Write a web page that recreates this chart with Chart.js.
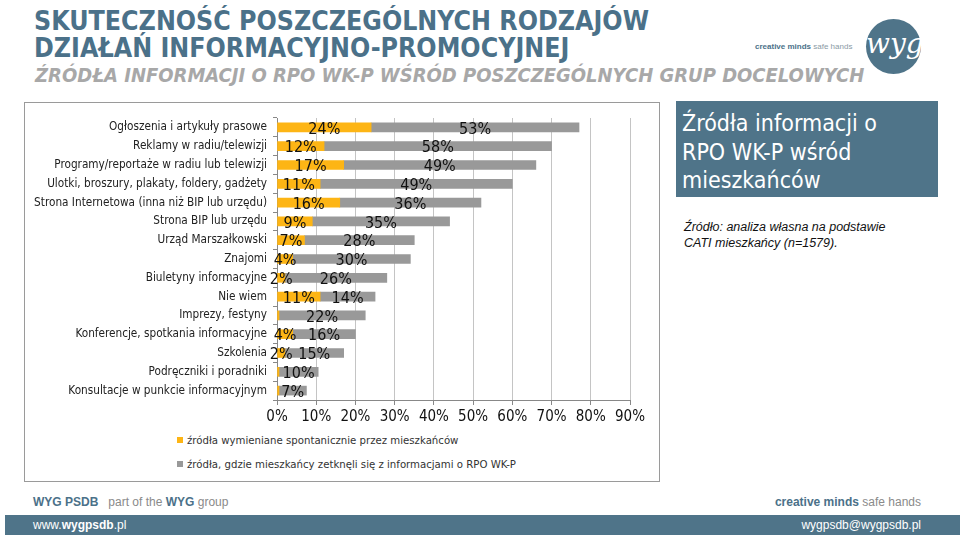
<!DOCTYPE html>
<html>
<head>
<meta charset="utf-8">
<script src="https://cdn.jsdelivr.net/npm/chart.js@4"></script>
<style>
  body { margin: 0; width: 960px; height: 539px; position: relative; background: #fff; overflow: hidden; font-family: "DejaVu Sans", sans-serif; }
  .abs { position: absolute; white-space: nowrap; }
  #t1, #t2 { left: 34px; color: #4b7189; font: bold 26.5px "DejaVu Sans Condensed", "DejaVu Sans", sans-serif; }
  #t1 { top: 5px; }
  #t2 { top: 32px; }
  #t3 { left: 35px; top: 63px; color: #a8a8a8; font: italic bold 20px "DejaVu Sans Condensed", "DejaVu Sans", sans-serif; }
  #tag { left: 755px; top: 42px; font: 8px "Liberation Sans", sans-serif; color: #8a9aa5; }
  #tag b { color: #4b7189; }
  #logo { left: 866px; top: 19px; width: 55px; height: 55px; border-radius: 50%; background: #4f7489; color: #fff; font: italic 28px "DejaVu Serif", serif; text-align: center; line-height: 50px; }
  #box { left: 24px; top: 102px; width: 634px; height: 378px; border: 1.5px solid #9a9a9a; }
  #wrap { left: 25px; top: 103px; width: 635px; height: 330px; }
  #legend { left: 177px; top: 433px; font: 11.3px "DejaVu Sans Condensed", "DejaVu Sans", sans-serif; color: #333; }
  #legend div { height: 24px; line-height: 16px; }
  #legend span.sw { display: inline-block; width: 6px; height: 6px; margin-right: 4px; vertical-align: 1px; }
  #side { left: 676px; top: 101px; width: 262px; height: 96px; background: #4f7489; color: #fff; font: 23px "DejaVu Sans Condensed", "DejaVu Sans", sans-serif; line-height: 28.5px; padding: 8px 0 0 6px; box-sizing: border-box; }
  #src { left: 684px; top: 219px; font: italic 12.5px "Liberation Sans", sans-serif; color: #111; line-height: 16px; }
  #f1 { left: 33px; top: 495px; font: 12px "Liberation Sans", sans-serif; color: #8a8a8a; }
  #f1 b, #f2 b { color: #4b7189; }
  #f2 { right: 39px; top: 495px; font: 12px "Liberation Sans", sans-serif; color: #8a8a8a; }
  #bar { left: 5px; top: 515px; width: 955px; height: 20px; background: #4f7489; }
  #f3 { left: 33px; top: 518px; font: 12px "Liberation Sans", sans-serif; color: #fff; }
  #f4 { right: 39px; top: 518px; font: 12px "Liberation Sans", sans-serif; color: #fff; }
</style>
</head>
<body>
<div class="abs" id="t1">SKUTECZNOŚĆ POSZCZEGÓLNYCH RODZAJÓW</div>
<div class="abs" id="t2">DZIAŁAŃ INFORMACYJNO-PROMOCYJNEJ</div>
<div class="abs" id="t3">ŹRÓDŁA INFORMACJI O RPO WK-P WŚRÓD POSZCZEGÓLNYCH GRUP DOCELOWYCH</div>
<div class="abs" id="tag"><b>creative minds</b> safe hands</div>
<div class="abs" id="logo">wyg</div>

<div class="abs" id="box"></div>
<div class="abs" id="wrap"><canvas id="chart" width="635" height="330"></canvas></div>
<div class="abs" id="legend"></div>

<div class="abs" id="side">Źródła informacji o<br>RPO WK-P wśród<br>mieszkańców</div>
<div class="abs" id="src">Źródło: analiza własna na podstawie<br>CATI mieszkańcy (n=1579).</div>

<div class="abs" id="f1"><b>WYG PSDB</b>&nbsp;&nbsp;&nbsp;part of the <b>WYG</b> group</div>
<div class="abs" id="f2"><b>creative minds</b> safe hands</div>
<div class="abs" id="bar"></div>
<div class="abs" id="f3">www.<b style="color:#fff">wygpsdb</b>.pl</div>
<div class="abs" id="f4">wygpsdb@wygpsdb.pl</div>

<script>
var categories = [
    'Ogłoszenia i artykuły prasowe',
    'Reklamy w radiu/telewizji',
    'Programy/reportaże w radiu lub telewizji',
    'Ulotki, broszury, plakaty, foldery, gadżety',
    'Strona Internetowa (inna niż BIP lub urzędu)',
    'Strona BIP lub urzędu',
    'Urząd Marszałkowski',
    'Znajomi',
    'Biuletyny informacyjne',
    'Nie wiem',
    'Imprezy, festyny',
    'Konferencje, spotkania informacyjne',
    'Szkolenia',
    'Podręczniki i poradniki',
    'Konsultacje w punkcie informacyjnym'
];
var spontaneous = [24, 12, 17, 11, 16, 9, 7, 4, 2, 11, 0.5, 4, 2, 0.5, 0.5];
var encountered = [53, 58, 49, 49, 36, 35, 28, 30, 26, 14, 22, 16, 15, 10, 7];
var seriesNames = [
    'źródła wymieniane spontanicznie przez mieszkańców',
    'źródła, gdzie mieszkańcy zetknęli się z informacjami o RPO WK-P'
];
var seriesColors = ['#FDB515', '#999999'];
var xTicks = [0, 10, 20, 30, 40, 50, 60, 70, 80, 90];

// simple label plugin: value in the middle of each segment
var segmentLabels = {
    id: 'segmentLabels',
    afterDatasetsDraw: function(chart) {
        var c = chart.ctx;
        c.save();
        c.font = '16px "DejaVu Sans Condensed", "DejaVu Sans", sans-serif';
        c.fillStyle = '#111';
        c.textAlign = 'center';
        c.textBaseline = 'middle';
        chart.data.datasets.forEach(function(ds, i) {
            var meta = chart.getDatasetMeta(i);
            meta.data.forEach(function(el, j) {
                var v = ds.data[j];
                if (v < 1) return;
                c.fillText(Math.round(v) + '%', (el.x + el.base) / 2, el.y + 2);
            });
        });
        c.restore();
    }
};

var ctx = document.getElementById('chart').getContext('2d');
new Chart(ctx, {
    type: 'bar',
    data: {
        labels: categories,
        datasets: [
            { label: seriesNames[0], data: spontaneous, backgroundColor: seriesColors[0], barThickness: 9 },
            { label: seriesNames[1], data: encountered, backgroundColor: seriesColors[1], barThickness: 9 }
        ]
    },
    options: {
        indexAxis: 'y',
        responsive: false,
        animation: false,
        layout: { padding: { top: 15, right: 30, left: 0, bottom: 0 } },
        plugins: { legend: { display: false }, tooltip: { enabled: false } },
        scales: {
            x: {
                stacked: true,
                min: 0,
                max: 90,
                afterBuildTicks: function(scale) {
                    scale.ticks = xTicks.map(function(v) { return { value: v }; });
                },
                afterFit: function(scale) { scale.height = 33; },
                grid: { color: '#c4c4c4', tickLength: 5, tickColor: '#888' },
                border: { color: '#888' },
                ticks: {
                    padding: 3,
                    color: '#111',
                    font: { family: '"DejaVu Sans Condensed", "DejaVu Sans", sans-serif', size: 15 },
                    callback: function(v) { return v + '%'; }
                }
            },
            y: {
                stacked: true,
                afterFit: function(scale) { scale.width = 252; },
                grid: { drawOnChartArea: false, tickLength: 4, tickColor: '#888' },
                border: { color: '#888' },
                ticks: {
                    padding: 6,
                    color: '#222',
                    autoSkip: false,
                    font: { family: '"DejaVu Sans Condensed", "DejaVu Sans", sans-serif', size: 11.7 }
                }
            }
        }
    },
    plugins: [segmentLabels]
});

var lg = document.getElementById('legend');
seriesNames.forEach(function(name, i) {
    var row = document.createElement('div');
    row.innerHTML = '<span class="sw" style="background:' + seriesColors[i] + '"></span>' + name;
    lg.appendChild(row);
});
</script>
</body>
</html>
